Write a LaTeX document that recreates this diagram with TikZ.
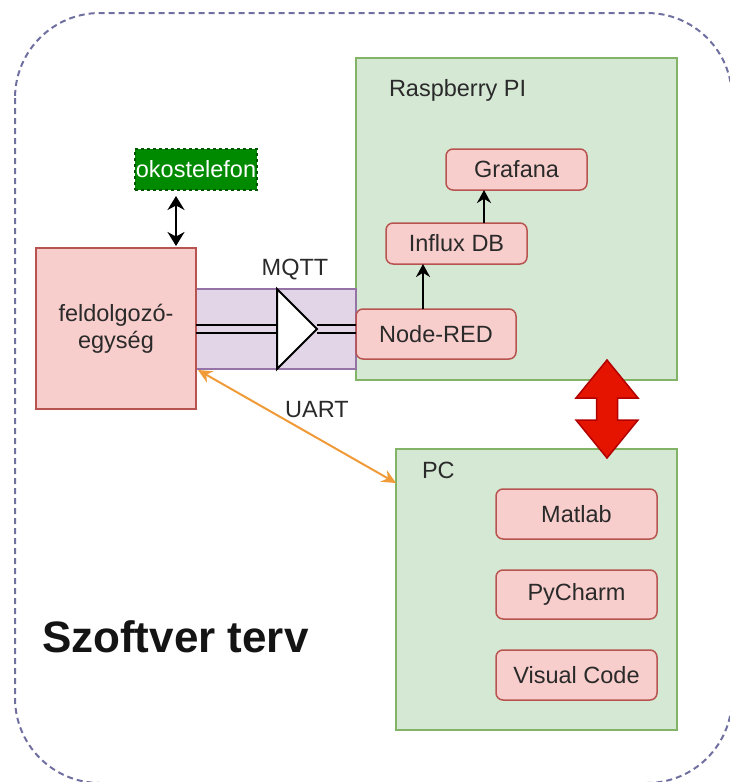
\documentclass[tikz,border=0pt]{standalone}
\usepackage{fontspec}
\setmainfont{Liberation Sans}
\usetikzlibrary{arrows.meta,calc}
\definecolor{pinkf}{HTML}{F8CECC}
\definecolor{pinkd}{HTML}{B85450}
\definecolor{greenf}{HTML}{D5E8D4}
\definecolor{greend}{HTML}{82B366}
\definecolor{purpf}{HTML}{E1D5E7}
\definecolor{purpd}{HTML}{9673A6}
\definecolor{outerd}{HTML}{6F70A0}
\definecolor{okof}{HTML}{008A00}
\definecolor{okod}{HTML}{005700}
\definecolor{redf}{HTML}{E51400}
\definecolor{redd}{HTML}{B20000}
\definecolor{uartc}{HTML}{F09A38}
\definecolor{txt}{HTML}{2A2A2A}
\begin{document}
\begin{tikzpicture}[x=1pt,y=-1pt,
  every node/.style={font=\fontsize{23.5}{27}\selectfont, text=txt, inner sep=0pt, outer sep=0pt},
  container/.style={draw=greend, fill=greenf, line width=1.5pt, rectangle},
  appbox/.style={draw=pinkd, fill=pinkf, line width=1.5pt, rounded corners=7pt, rectangle},
  blkarrow/.style={line width=2pt, -{Stealth[length=13pt,width=14pt]}},
  linkline/.style={line width=2.2pt, black}
]
\useasboundingbox (0,0) rectangle (729,782);
% outer dashed frame
\draw[outerd, line width=2pt, dash pattern=on 6pt off 4pt, rounded corners=85pt] (15,13) rectangle (732,783);

% containers
\node[container, minimum width=321pt, minimum height=322pt] (rpi) at (516.5,219) {};
\node[anchor=west] (rpilabel) at (389,90) {Raspberry PI};
\node[container, minimum width=281pt, minimum height=281pt] (pc) at (536.5,589.5) {};
\node[anchor=west] (pclabel) at (422,470) {PC};

% purple band
\node[draw=purpd, fill=purpf, line width=1.5pt, rectangle, minimum width=160pt, minimum height=80pt] (band) at (276,329) {};

% processing unit
\node[draw=pinkd, fill=pinkf, line width=1.5pt, rectangle, minimum width=160pt, minimum height=161pt, align=center] (feld) at (116,328.5) {feldolgozó-\\egység};

% smartphone
\node[draw=okod, fill=okof, dashed, line width=1.5pt, rectangle, minimum width=122pt, minimum height=41pt, text=white] (oko) at (196,169.5) {okostelefon};

% apps
\node[appbox, minimum width=141pt, minimum height=41pt] (grafana) at (516.5,169.5) {Grafana};
\node[appbox, minimum width=141pt, minimum height=41pt] (influx) at (456.5,243.5) {Influx DB};
\node[appbox, minimum width=160pt, minimum height=50pt] (nodered) at (436,334) {Node-RED};
\node[appbox, minimum width=161pt, minimum height=50pt] (matlab) at (576.5,514) {Matlab};
\node[appbox, minimum width=161pt, minimum height=49pt] (pycharm) at (576.5,594.5) {PyCharm};
\node[appbox, minimum width=161pt, minimum height=50pt] (vscode) at (576.5,675) {Visual Code};

% MQTT link with triangle
\coordinate (tl) at (277,289);
\coordinate (tb) at (277,369);
\coordinate (tt) at (317,329);
\coordinate (la) at (feld.east|-band.center);
\coordinate (lb) at (tl|-band.center);
\coordinate (lc) at (tt);
\coordinate (ld) at (nodered.west|-band.center);
\draw[linkline] ($(la)+(0,-4)$) -- ($(lb)+(0,-4)$);
\draw[linkline] ($(la)+(0,4)$) -- ($(lb)+(0,4)$);
\draw[linkline] ($(lc)+(0,-4)$) -- ($(ld)+(0,-4)$);
\draw[linkline] ($(lc)+(0,4)$) -- ($(ld)+(0,4)$);
\draw[line width=2pt, fill=white, line join=miter] (tl) -- (tt) -- (tb) -- cycle;
\node (mqtt) at (295,270) {MQTT};

% black arrows
\coordinate (okoA) at ($(oko.south)+(-20,6)$);
\coordinate (okoB) at ($(feld.north)+(60,-2)$);
\draw[line width=2.5pt, {Stealth[length=14pt,width=17pt]}-{Stealth[length=14pt,width=17pt]}] (okoA) -- (okoB);
\coordinate (nrA) at ($(nodered.north)+(-13,0)$);
\coordinate (nrB) at (nrA|-influx.south);
\draw[blkarrow] (nrA) -- (nrB);
\coordinate (inA) at ($(influx.north)+(27.5,0)$);
\coordinate (inB) at (inA|-grafana.south);
\draw[blkarrow] (inA) -- (inB);

% UART
\coordinate (uA) at ($(feld.east)+(2,41.5)$);
\coordinate (uB) at ($(pc.west)+(0,-106.5)$);
\draw[uartc, line width=2pt, {Stealth[length=14pt,width=13pt]}-{Stealth[length=14pt,width=13pt]}] (uA) -- (uB);
\node (uart) at (317,410) {UART};

% red double arrow
\coordinate (dbl) at ($(rpi.south)!0.5!(pc.north)+(80.5,-5.5)$);
\draw[redd, fill=redf, line width=1.5pt, line join=miter] ($(dbl)+(0,-49)$) -- ($(dbl)+(31,-11)$) -- ($(dbl)+(10.5,-11)$) -- ($(dbl)+(10.5,11)$) -- ($(dbl)+(31,11)$) -- ($(dbl)+(0,49)$) -- ($(dbl)+(-31,11)$) -- ($(dbl)+(-10.5,11)$) -- ($(dbl)+(-10.5,-11)$) -- ($(dbl)+(-31,-11)$) -- cycle;

% title
\node[anchor=west, font=\fontsize{44}{50}\selectfont\bfseries, text=black!92] (title) at (42,637) {Szoftver terv};
\end{tikzpicture}
\end{document}
